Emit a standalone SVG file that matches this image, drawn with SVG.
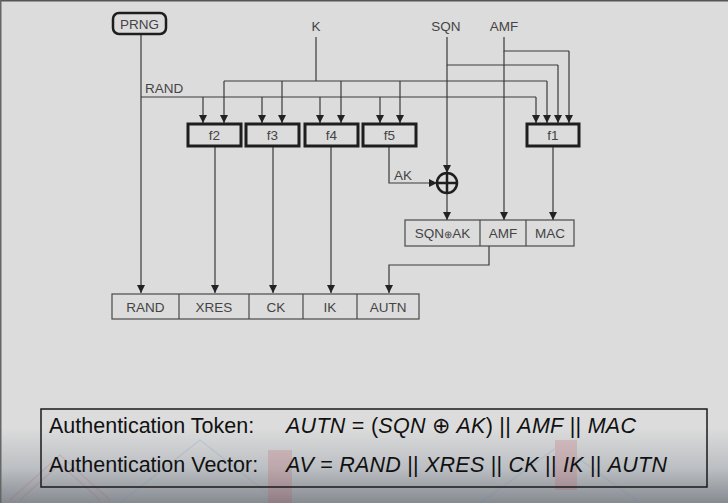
<svg xmlns="http://www.w3.org/2000/svg" width="728" height="503" viewBox="0 0 728 503">
<defs>
<linearGradient id="bg" x1="0" y1="0" x2="0" y2="1">
<stop offset="0" stop-color="#dcdcdc"/>
<stop offset="0.85" stop-color="#dcdcdc"/>
<stop offset="0.93" stop-color="#bcbfc3"/>
<stop offset="1" stop-color="#868b92"/>
</linearGradient>
<marker id="ah" viewBox="0 0 8 8" refX="8" refY="4" markerWidth="8" markerHeight="8" markerUnits="userSpaceOnUse" orient="auto">
<path d="M0,0 L8,4 L0,8 Z" fill="#222"/>
</marker>
<style>
.ln{fill:none;stroke:#3a3a3a;stroke-width:1.2}
.ar{fill:none;stroke:#3a3a3a;stroke-width:1.2;marker-end:url(#ah)}
.fb{fill:none;stroke:#1e1e1e;stroke-width:3}
.cell{fill:none;stroke:#4a4a4a;stroke-width:1.2}
.t{font-family:"Liberation Sans",Arial,sans-serif;font-size:13.5px;fill:#444;text-anchor:middle}
.tl{font-family:"Liberation Sans",Arial,sans-serif;font-size:13.5px;fill:#444}
.big{font-family:"Liberation Sans",Arial,sans-serif;font-size:21.5px;fill:#111}
.it{font-style:italic}
</style>
</defs>
<rect x="0" y="0" width="728" height="503" fill="url(#bg)"/>
<g opacity="0.18" fill="none" stroke-width="1.2">
<path d="M10,500 L60,455 L110,500" stroke="#c24a55"/>
<path d="M20,500 L60,464 L100,500" stroke="#c24a55"/>
<path d="M120,503 L200,440 L280,503" stroke="#5f8fb0"/>
<path d="M480,503 L560,445 L640,503" stroke="#5f8fb0"/>
<rect x="268" y="450" width="24" height="53" fill="#c0404a" stroke="none"/>
<rect x="555" y="440" width="22" height="50" fill="#c0404a" stroke="none"/>
</g>
<rect x="0" y="0" width="728" height="1.5" fill="#555"/>
<rect x="0" y="0" width="1.5" height="503" fill="#666"/>

<g id="connectors">
<path class="ar" d="M141,34 V293"/>
<path class="ln" d="M141,97 H536"/>
<path class="ar" d="M203,97 V123"/>
<path class="ar" d="M262,97 V123"/>
<path class="ar" d="M320,97 V123"/>
<path class="ar" d="M380,97 V123"/>
<path class="ar" d="M536,97 V123"/>
<path class="ln" d="M316,37 V81"/>
<path class="ln" d="M224,81 H547"/>
<path class="ar" d="M224,81 V123"/>
<path class="ar" d="M282,81 V123"/>
<path class="ar" d="M341,81 V123"/>
<path class="ar" d="M400,81 V123"/>
<path class="ar" d="M547,81 V123"/>
<path class="ln" d="M447,37 V65 H558"/>
<path class="ar" d="M558,65 V123"/>
<path class="ar" d="M447,65 V173"/>
<path class="ln" d="M504,37 V51 H569"/>
<path class="ar" d="M569,51 V123"/>
<path class="ar" d="M504,51 V220"/>
<path class="ar" d="M215,146 V293"/>
<path class="ar" d="M273,146 V293"/>
<path class="ar" d="M331,146 V293"/>
<path class="ar" d="M389,146 V183 H437"/>
<path class="ar" d="M553,146 V220"/>
<path class="ar" d="M447,193 V220"/>
<path class="ar" d="M489,246 V265 H389 V293"/>
</g>

<g id="prng">
<rect x="113" y="13" width="53" height="21" rx="6" fill="none" stroke="#1e1e1e" stroke-width="2.5"/>
<text class="t" x="139.5" y="28.5">PRNG</text>
</g>
<g id="label-k"><text class="t" x="316" y="31">K</text></g>
<g id="label-sqn"><text class="t" x="446" y="31">SQN</text></g>
<g id="label-amf"><text class="t" x="504" y="31">AMF</text></g>
<g id="label-rand"><text class="tl" x="145" y="93">RAND</text></g>
<g id="label-ak"><text class="tl" x="394" y="180">AK</text></g>

<g id="f2"><rect class="fb" x="188" y="124" width="53" height="22"/><text class="t" x="214.5" y="140">f2</text></g>
<g id="f3"><rect class="fb" x="246" y="124" width="53" height="22"/><text class="t" x="272.5" y="140">f3</text></g>
<g id="f4"><rect class="fb" x="305" y="124" width="53" height="22"/><text class="t" x="331.5" y="140">f4</text></g>
<g id="f5"><rect class="fb" x="363" y="124" width="53" height="22"/><text class="t" x="389.5" y="140">f5</text></g>
<g id="f1"><rect class="fb" x="527" y="124" width="52" height="22"/><text class="t" x="553" y="140">f1</text></g>

<g id="xor">
<circle cx="447" cy="183" r="10" fill="none" stroke="#1e1e1e" stroke-width="2.5"/>
<path d="M437,183 H457 M447,173 V193" stroke="#1e1e1e" stroke-width="2.5"/>
</g>

<g id="autn-fields">
<rect class="cell" x="405" y="220" width="169" height="26"/>
<path class="cell" d="M480,220 V246 M526,220 V246"/>
<text class="t" x="442.5" y="238">SQN<tspan font-size="10">⊕</tspan>AK</text>
<text class="t" x="503" y="238">AMF</text>
<text class="t" x="550" y="238">MAC</text>
</g>

<g id="av-fields">
<rect class="cell" x="112" y="294" width="307" height="25"/>
<path class="cell" d="M179,294 V319 M249,294 V319 M303,294 V319 M357,294 V319"/>
<text class="t" x="145.5" y="312">RAND</text>
<text class="t" x="214" y="312">XRES</text>
<text class="t" x="276" y="312">CK</text>
<text class="t" x="330" y="312">IK</text>
<text class="t" x="388" y="312">AUTN</text>
</g>

<g id="legend">
<rect x="41" y="409" width="666" height="78" fill="none" stroke="#1a1a1a" stroke-width="1.5"/>
<text class="big" x="49" y="433">Authentication Token:</text>
<text class="big" x="286" y="433" textLength="350" lengthAdjust="spacing"><tspan class="it">AUTN</tspan> = (<tspan class="it">SQN</tspan> ⊕ <tspan class="it">AK</tspan>) || <tspan class="it">AMF</tspan> || <tspan class="it">MAC</tspan></text>
<text class="big" x="49" y="472">Authentication Vector:</text>
<text class="big" x="286" y="472" textLength="381" lengthAdjust="spacing"><tspan class="it">AV</tspan> = <tspan class="it">RAND</tspan> || <tspan class="it">XRES</tspan> || <tspan class="it">CK</tspan> || <tspan class="it">IK</tspan> || <tspan class="it">AUTN</tspan></text>
</g>
</svg>
